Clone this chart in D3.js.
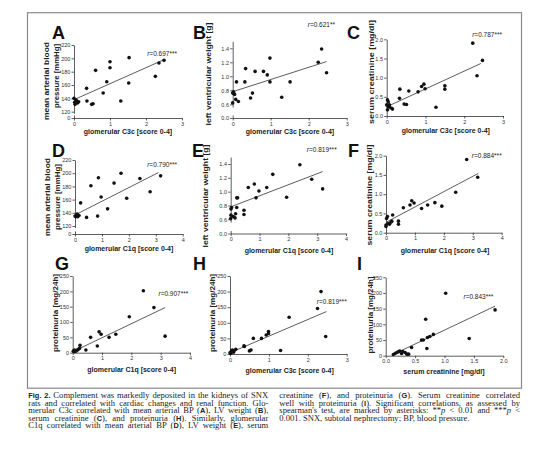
<!DOCTYPE html>
<html>
<head>
<meta charset="utf-8">
<script src="https://cdn.jsdelivr.net/npm/d3@7"></script>
<style>
  body { margin: 0; background: #fff; }
  svg { display: block; }
  .tick text { font-family: "Liberation Sans", Arial, sans-serif; font-size: 5.5px; fill: #333; }
  .domain, .tick line { stroke: #333; stroke-width: 0.8; }
</style>
</head>
<body>
<script>
// values, one pair of arrays per panel
// A: glomerular C3c vs mean arterial BP
var a_c3c = [0, 0.02, 0.05, 0.08, 0.1, 0.03, 0.13, 0.35, 0.36, 0.49, 0.53, 0.6, 0.81, 0.91, 1.0, 1.0, 1.3, 1.52, 1.53, 2.26, 2.36, 2.5];
var a_map = [140, 134, 138, 136, 133, 131, 135, 155, 136, 131, 132, 182, 148, 165, 195, 186, 136, 163, 201, 173, 193, 197];
// B: glomerular C3c vs LV weight
var b_c3c = [0, 0.02, 0.04, 0, 0.08, 0.05, 0.15, 0.1, 0.34, 0.32, 0.47, 0.52, 0.59, 0.81, 0.91, 0.98, 0.98, 1.29, 1.51, 2.25, 2.34, 2.47];
var b_lvw = [0.76, 0.78, 0.75, 0.62, 0.67, 0.74, 0.64, 0.92, 1.11, 0.92, 0.69, 0.76, 1.07, 1.07, 1.02, 1.26, 0.92, 0.7, 0.92, 1.2, 1.39, 1.05];
// C: glomerular C3c vs serum creatinine
var c_c3c = [0.02, 0.04, 0, 0.04, 0.08, 0.13, 0.15, 0.02, 0.07, 0.34, 0.33, 0.45, 0.51, 0.57, 0.81, 0.9, 0.96, 0.99, 1.27, 1.5, 1.5, 2.22, 2.47, 2.33];
var c_crea = [0.42, 0.37, 0.29, 0.24, 0.23, 0.2, 0.18, 0.16, 0.29, 0.7, 0.46, 0.31, 0.3, 0.65, 0.63, 0.77, 0.83, 0.71, 0.23, 0.79, 0.7, 1.9, 1.45, 1.05];
// D: glomerular C1q vs mean arterial BP
var d_c1q = [0.05, 0.1, 0.03, 0.15, 0.08, 0, 0.21, 0.43, 0.59, 0.84, 0.87, 0.97, 1.21, 1.45, 1.71, 1.92, 2.41, 2.79, 3.18];
var d_map = [136, 134, 134, 136, 138, 135, 155, 133, 181, 135, 193, 164, 146, 185, 200, 162, 192, 172, 196];
// E: glomerular C1q vs LV weight
var e_c1q = [0.01, 0.03, 0, 0.01, 0.09, 0.15, 0.17, 0.21, 0.21, 0.24, 0.46, 0.46, 0.61, 0.82, 0.88, 0.98, 1.25, 1.46, 1.94, 2.4, 2.81, 3.19];
var e_lvw = [0.75, 0.77, 0.61, 0.66, 0.64, 0.62, 0.68, 0.77, 0.91, 0.91, 0.73, 0.67, 1.06, 1.11, 0.91, 1.01, 1.06, 1.25, 0.92, 1.39, 1.18, 1.04];
// F: glomerular C1q vs serum creatinine
var f_c1q = [0, 0.02, 0.05, 0, 0.08, 0.12, 0.17, 0.2, 0.23, 0.43, 0.43, 0.6, 0.83, 0.89, 0.97, 1.23, 1.44, 1.69, 1.93, 2.41, 2.79, 3.17];
var f_crea = [0.2, 0.37, 0.42, 0.16, 0.24, 0.22, 0.27, 0.3, 0.46, 0.3, 0.22, 0.65, 0.72, 0.83, 0.77, 0.63, 0.72, 0.78, 0.69, 1.05, 1.9, 1.44];
// G: glomerular C1q vs proteinuria
var g_c1q = [0.02, 0.06, 0.11, 0.16, 0.19, 0.23, 0.25, 0.05, 0.45, 0.61, 0.84, 0.9, 0.97, 1.24, 1.47, 1.93, 2.41, 2.77, 3.15];
var g_prot = [5, 9, 5, 9, 11, 14, 24, 3, 9, 50, 22, 68, 60, 50, 60, 117, 202, 147, 54];
// H: glomerular C3c vs proteinuria
var h_c3c = [0, 0.03, 0.04, 0.09, 0.06, 0.11, 0.15, 0.02, 0.36, 0.37, 0.5, 0.54, 0.6, 0.81, 0.93, 0.99, 0.99, 1.3, 1.52, 2.25, 2.34, 2.46];
var h_prot = [4, 7, 10, 6, 13, 11, 15, 2, 26, 24, 10, 13, 50, 50, 61, 66, 72, 11, 118, 146, 200, 56];
// I: serum creatinine vs proteinuria
var i_crea = [0.13, 0.16, 0.19, 0.22, 0.24, 0.27, 0.29, 0.33, 0.36, 0.39, 0.44, 0.61, 0.64, 0.68, 0.7, 0.71, 0.75, 0.81, 1.02, 1.42, 1.86];
var i_prot = [4, 7, 10, 13, 15, 7, 13, 10, 5, 5, 26, 50, 50, 116, 23, 58, 61, 68, 199, 55, 146];

// regression lines, start and end in data units [x0, y0, x1, y1]
var fitA = [0, 138, 2.5, 198];
var fitB = [0, 0.78, 2.47, 1.21];
var fitC = [0, 0.24, 2.43, 1.37];
var fitD = [0, 136.7, 3.1, 201];
var fitE = [0, 0.78, 3.19, 1.29];
var fitF = [0, 0.27, 3.19, 1.54];
var fitG = [0, 3, 3.15, 147];
var fitH = [0, 4, 2.48, 136];
var fitI = [0.16, 7, 1.86, 158];

var rLabels = ["0.697***", "0.621**", "0.787***", "0.790***", "0.819***", "0.884***", "0.907***", "0.819***", "0.843***"];

// tick values
var score3Ticks = [0, 1, 2, 3];
var score4Ticks = [0, 1, 2, 3, 4];
var creaXTicks = [0, 0.5, 1, 1.5, 2];
var mapTicks = [120, 140, 160, 180, 200, 220];
var lvwTicks = [0.6, 0.8, 1.0, 1.2, 1.4];
var creaTicks = [0, 0.5, 1, 1.5, 2];
var protTicks = [0, 50, 100, 150, 200, 250];

var xC3c = "glomerular C3c [score 0-4]";
var xC1q = "glomerular C1q [score 0-4]";
var xCrea = "serum creatinine [mg/dl]";

var captionLeft = [
  "§Fig. 2.§ Complement was markedly deposited in the kidneys of SNX",
  "rats and correlated with cardiac changes and renal function. Glo-",
  "merular C3c correlated with mean arterial BP (§A§), LV weight (§B§),",
  "serum creatinine (§C§), and proteinuria (§H§). Similarly, glomerular",
  "C1q correlated with mean arterial BP (§D§), LV weight (§E§), serum"
];
var captionRight = [
  "creatinine (§F§), and proteinuria (§G§). Serum creatinine correlated",
  "well with proteinuria (§I§). Significant correlations, as assessed by",
  "spearman's test, are marked by asterisks: **~p~ < 0.01 and ***~p~ <",
  "0.001. SNX, subtotal nephrectomy; BP, blood pressure."
];

var sans = '"Liberation Sans", Arial, sans-serif';
var serif = '"Liberation Serif", "Times New Roman", serif';

var svg = d3.select("body").append("svg")
  .attr("width", 550)
  .attr("height", 470);

svg.append("rect")
  .attr("x", 27.5).attr("y", 12.7)
  .attr("width", 494).attr("height", 375.5)
  .attr("fill", "none")
  .attr("stroke", "#8a8a8a")
  .attr("stroke-width", 1.2);

// layout of each panel (pixels)
var panels = [
  { letter: "A", lx: 52, ly: 39, xs: a_c3c, ys: a_map, fit: fitA, r: 0, rx: 177, ry: 56.3,
    left: 74, right: 182, bottom: 118, xMax: 3, xTicks: score3Ticks, xFmt: d3.format("d"),
    yLo: 120, yHi: 220, yLoPx: 111.7, yHiPx: 45, yTop: 220, yTicks: mapTicks, yFmt: d3.format("d"), brk: 117.6,
    xTitle: xC3c, xtx: 128, xty: 134, yTitle: ["mean arterial blood", "pressure [mmHg]"], ytx: [46.5, 56.5], yty: [81, 76], ytl: [78, 64] },
  { letter: "B", lx: 193, ly: 39, xs: b_c3c, ys: b_lvw, fit: fitB, r: 1, rx: 335, ry: 27,
    left: 232.7, right: 346.7, bottom: 118, xMax: 3, xTicks: score3Ticks, xFmt: d3.format("d"),
    yLo: 0.6, yHi: 1.4, yLoPx: 104.3, yHiPx: 48.3, yTop: 1.5, yTicks: lvwTicks, yFmt: d3.format(".1f"), brk: 0.56,
    xTitle: xC3c, xtx: 290, xty: 134, yTitle: ["left ventricular weight [g]"], ytx: [208.5], yty: [74], ytl: [103] },
  { letter: "C", lx: 347, ly: 39, xs: c_c3c, ys: c_crea, fit: fitC, r: 2, rx: 502, ry: 37,
    left: 386.7, right: 503, bottom: 116, xMax: 3, xTicks: score3Ticks, xFmt: d3.format("d"),
    yLo: 0, yHi: 2, yLoPx: 116, yHiPx: 39.3, yTop: 2, yTicks: creaTicks, yFmt: d3.format(".1f"), brk: null,
    xTitle: xC3c, xtx: 445.8, xty: 132.5, yTitle: ["serum creatinine [mg/dl]"], ytx: [371.5], yty: [72], ytl: [104] },
  { letter: "D", lx: 52, ly: 156.5, xs: d_c1q, ys: d_map, fit: fitD, r: 3, rx: 177, ry: 167,
    left: 75, right: 182.7, bottom: 234, xMax: 4, xTicks: score4Ticks, xFmt: d3.format("d"),
    yLo: 120, yHi: 220, yLoPx: 226, yHiPx: 160, yTop: 220, yTicks: mapTicks, yFmt: d3.format("d"), brk: 117.6,
    xTitle: xC1q, xtx: 129, xty: 250.8, yTitle: ["mean arterial blood", "pressure [mmHg]"], ytx: [47.5, 57.5], yty: [197, 197], ytl: [78, 66] },
  { letter: "E", lx: 192, ly: 156.5, xs: e_c1q, ys: e_lvw, fit: fitE, r: 4, rx: 336.7, ry: 152,
    left: 230.7, right: 346, bottom: 233.5, xMax: 4, xTicks: score4Ticks, xFmt: d3.format("d"),
    yLo: 0.6, yHi: 1.4, yLoPx: 219.3, yHiPx: 164, yTop: 1.5, yTicks: lvwTicks, yFmt: d3.format(".1f"), brk: 0.56,
    xTitle: xC1q, xtx: 289, xty: 252.5, yTitle: ["left ventricular weight [g]"], ytx: [205], yty: [196], ytl: [103] },
  { letter: "F", lx: 348, ly: 156.5, xs: f_c1q, ys: f_crea, fit: fitF, r: 5, rx: 501.7, ry: 157.7,
    left: 386, right: 501.7, bottom: 232.7, xMax: 4, xTicks: score4Ticks, xFmt: d3.format("d"),
    yLo: 0, yHi: 2, yLoPx: 232.7, yHiPx: 155.7, yTop: 2, yTicks: creaTicks, yFmt: d3.format(".1f"), brk: null,
    xTitle: xC1q, xtx: 445, xty: 252.5, yTitle: ["serum creatinine [mg/dl]"], ytx: [369], yty: [195], ytl: [101] },
  { letter: "G", lx: 55, ly: 269.5, xs: g_c1q, ys: g_prot, fit: fitG, r: 6, rx: 188.3, ry: 296.3,
    left: 72.7, right: 190, bottom: 352.7, xMax: 4, xTicks: score4Ticks, xFmt: d3.format("d"),
    yLo: 0, yHi: 250, yLoPx: 352.7, yHiPx: 276, yTop: 250, yTicks: protTicks, yFmt: d3.format("d"), brk: null,
    xTitle: xC1q, xtx: 131.7, xty: 371.8, yTitle: ["proteinuria [mg/24h]"], ytx: [55], yty: [313], ytl: [78] },
  { letter: "H", lx: 193, ly: 269.5, xs: h_c3c, ys: h_prot, fit: fitH, r: 7, rx: 346.7, ry: 303.7,
    left: 230, right: 346.7, bottom: 354, xMax: 3, xTicks: score3Ticks, xFmt: d3.format("d"),
    yLo: 0, yHi: 250, yLoPx: 354, yHiPx: 276, yTop: 250, yTicks: protTicks, yFmt: d3.format("d"), brk: null,
    xTitle: xC3c, xtx: 289.7, xty: 372.5, yTitle: ["proteinuria [mg/24h]"], ytx: [212], yty: [313], ytl: [78] },
  { letter: "I", lx: 357, ly: 269.5, xs: i_crea, ys: i_prot, fit: fitI, r: 8, rx: 493.3, ry: 299.3,
    left: 385.7, right: 503.3, bottom: 355.7, xMax: 2, xTicks: creaXTicks, xFmt: d3.format(".1f"),
    yLo: 0, yHi: 250, yLoPx: 355.7, yHiPx: 277.3, yTop: 250, yTicks: protTicks, yFmt: d3.format("d"), brk: null,
    xTitle: xCrea, xtx: 444, xty: 374, yTitle: ["proteinuria [mg/24h]"], ytx: [370], yty: [315], ytl: [77] }
];

panels.forEach(function(p) {
  var g = svg.append("g");

  var x = d3.scaleLinear().domain([0, p.xMax]).range([p.left, p.right]);
  var y = d3.scaleLinear().domain([p.yLo, p.yHi]).range([p.yLoPx, p.yHiPx]);

  // x axis
  g.append("g")
    .attr("transform", "translate(0," + p.bottom + ")")
    .call(d3.axisBottom(x).tickValues(p.xTicks).tickFormat(p.xFmt)
      .tickSize(2.5).tickSizeOuter(0).tickPadding(1.2));

  // y axis; broken ones get a short segment for the zero tick
  var yStart = p.brk === null ? p.yLo : p.brk;
  var yAxisScale = d3.scaleLinear().domain([yStart, p.yTop]).range([y(yStart), y(p.yTop)]);
  g.append("g")
    .attr("transform", "translate(" + p.left + ",0)")
    .call(d3.axisLeft(yAxisScale).tickValues(p.yTicks).tickFormat(p.yFmt)
      .tickSize(2.5).tickSizeOuter(0).tickPadding(1.2));

  if (p.brk !== null) {
    var zero = d3.scaleLinear().domain([0, 1]).range([p.bottom, p.bottom - 3]);
    g.append("g")
      .attr("transform", "translate(" + p.left + ",0)")
      .call(d3.axisLeft(zero).tickValues([0]).tickFormat(p.yFmt)
        .tickSize(2.5).tickSizeOuter(0).tickPadding(1.2));
  }

  // fit line
  g.append("line")
    .attr("x1", x(p.fit[0])).attr("y1", y(p.fit[1]))
    .attr("x2", x(p.fit[2])).attr("y2", y(p.fit[3]))
    .attr("stroke", "#333")
    .attr("stroke-width", 0.8);

  // points
  g.selectAll(".dot")
    .data(p.xs.map(function(v, i) { return [v, p.ys[i]]; }))
    .enter().append("circle")
    .attr("class", "dot")
    .attr("cx", function(d) { return x(d[0]); })
    .attr("cy", function(d) { return y(d[1]); })
    .attr("r", 1.8)
    .attr("fill", "#111");

  // correlation label
  var rt = g.append("text")
    .attr("x", p.rx).attr("y", p.ry)
    .attr("text-anchor", "end")
    .style("font-family", sans)
    .style("font-size", "6.5px")
    .attr("fill", "#222");
  rt.append("tspan").style("font-style", "italic").text("r");
  rt.append("tspan").text("=" + rLabels[p.r]);

  // panel letter
  g.append("text")
    .attr("x", p.lx).attr("y", p.ly)
    .style("font-family", sans)
    .style("font-size", "18px")
    .style("font-weight", "bold")
    .attr("fill", "#111")
    .text(p.letter);

  // axis titles
  g.append("text")
    .attr("x", p.xtx).attr("y", p.xty)
    .attr("text-anchor", "middle")
    .style("font-family", sans)
    .style("font-size", "7px")
    .style("font-weight", "bold")
    .attr("fill", "#222")
    .text(p.xTitle);

  p.yTitle.forEach(function(t, i) {
    g.append("text")
      .attr("transform", "translate(" + p.ytx[i] + "," + p.yty[i] + ") rotate(-90)")
      .attr("text-anchor", "middle")
      .attr("dy", "0.35em")
      .attr("textLength", p.ytl[i])
      .attr("lengthAdjust", "spacingAndGlyphs")
      .style("font-family", sans)
      .style("font-size", "7.8px")
      .style("font-weight", "bold")
      .attr("fill", "#222")
      .text(t);
  });
});

// caption, two columns justified by stretching the word spaces
function captionLine(str, x, yPos, width) {
  var t = svg.append("text")
    .attr("x", x).attr("y", yPos)
    .style("font-family", serif)
    .style("font-size", "8.6px")
    .attr("fill", "#222");
  str.split(/(§[^§]*§|~[^~]*~)/).forEach(function(s) {
    if (!s) return;
    if (s[0] === "§") {
      t.append("tspan").style("font-family", sans).style("font-weight", "bold")
        .style("font-size", "7.4px").text(s.slice(1, -1));
    } else if (s[0] === "~") {
      t.append("tspan").style("font-style", "italic").text(s.slice(1, -1));
    } else {
      t.append("tspan").text(s);
    }
  });
  if (width) {
    var natural = t.node().getComputedTextLength();
    var spaces = str.split(" ").length - 1;
    t.attr("word-spacing", (width - natural) / spaces);
  }
}

captionLeft.forEach(function(s, i) {
  captionLine(s, 28.3, 398.3 + i * 7.4, 240);
});
captionRight.forEach(function(s, i) {
  captionLine(s, 279.3, 398.3 + i * 7.4, i < captionRight.length - 1 ? 240.7 : null);
});
</script>
</body>
</html>
